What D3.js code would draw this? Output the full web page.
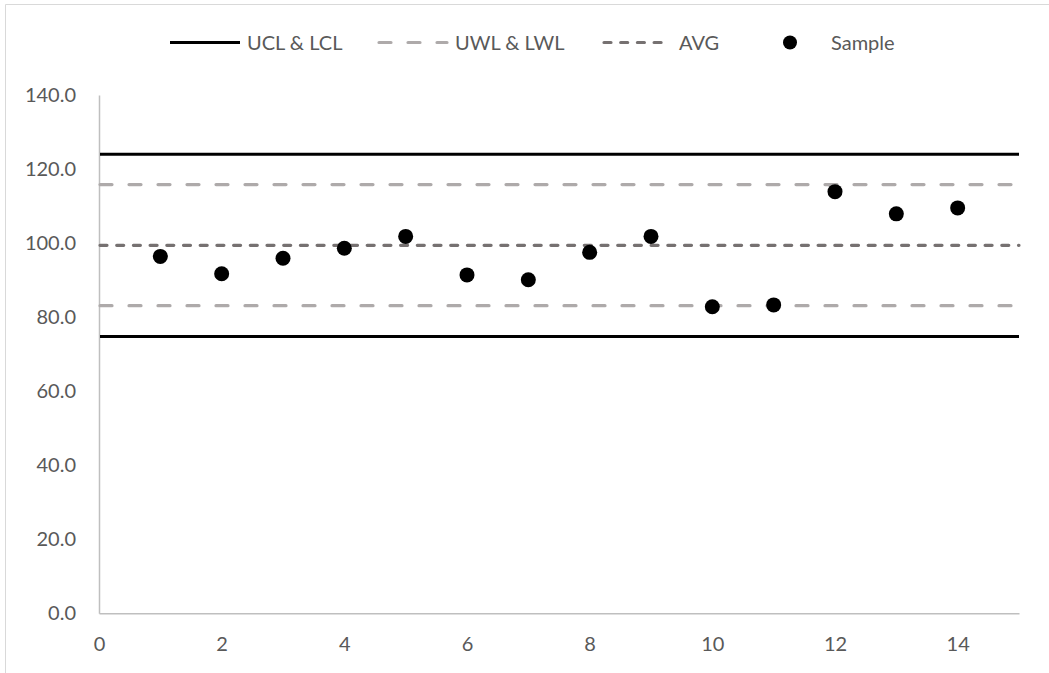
<!DOCTYPE html>
<html>
<head>
<meta charset="utf-8">
<script src="https://cdn.jsdelivr.net/npm/d3@7"></script>
<style>
  html, body { margin: 0; padding: 0; background: #fff; }
  svg { display: block; font-family: Lato, "Open Sans", sans-serif; }
</style>
</head>
<body>
<svg id="chart" width="1049" height="673"></svg>
<script>
// Sample numbers and measured values
const sampleIds = [1, 2, 3, 4, 5, 6, 7, 8, 9, 10, 11, 12, 13, 14];
const sampleValues = [96.4, 91.7, 95.9, 98.6, 101.8, 91.4, 90.1, 97.5, 101.8, 82.8, 83.3, 113.9, 107.9, 109.5];

// Control limits, warning limits and average
const controlLimits = [124.0, 74.8];   // UCL, LCL
const warningLimits = [115.8, 83.1];   // UWL, LWL
const averageLine = [99.4];            // AVG

// Axis ticks
const xTicks = [0, 2, 4, 6, 8, 10, 12, 14];
const yTicks = [0, 20, 40, 60, 80, 100, 120, 140];

const legendLabels = ["UCL & LCL", "UWL & LWL", "AVG", "Sample"];

const svg = d3.select("#chart");
const textColor = "#595959";
const axisColor = "#BFBFBF";

const x = d3.scaleLinear().domain([0, 15]).range([99, 1019]);
const y = d3.scaleLinear().domain([0, 140]).range([613.3, 95]);

// Chart frame
svg.append("path")
  .attr("d", "M5.5,673 L5.5,4.5 L1049,4.5")
  .attr("fill", "none")
  .attr("stroke", "#D9D9D9")
  .attr("stroke-width", 1);

// Y axis
const yAxis = d3.axisLeft(y).tickValues(yTicks).tickSize(0).tickPadding(23)
  .tickFormat(d3.format(".1f"));
const gy = svg.append("g").attr("transform", `translate(${x(0)},0)`).call(yAxis);
gy.select(".domain").attr("stroke", axisColor).attr("stroke-width", 1.5);
gy.selectAll("text").attr("fill", textColor).attr("font-size", 20)
  .attr("font-family", "Lato, 'Open Sans', sans-serif");

// X axis
const xAxis = d3.axisBottom(x).tickValues(xTicks).tickSize(0).tickPadding(31)
  .tickFormat(d3.format("d"));
const gx = svg.append("g").attr("transform", `translate(0,${y(0)})`).call(xAxis);
gx.select(".domain").attr("stroke", axisColor).attr("stroke-width", 1.5);
gx.selectAll("text").attr("fill", textColor).attr("font-size", 20)
  .attr("font-family", "Lato, 'Open Sans', sans-serif").attr("dy", "0.32em");

// Horizontal limit lines
const styles = {
  control: { stroke: "#000000", width: 3, dash: null, cap: "butt" },
  warning: { stroke: "#AEAAAA", width: 3.2, dash: "12,17", cap: "round" },
  average: { stroke: "#767171", width: 3.2, dash: "7,9.7", cap: "round" }
};

function hLines(values, st) {
  svg.append("g").selectAll("line").data(values).join("line")
    .attr("x1", x(0) + 1).attr("x2", x(15))
    .attr("y1", d => y(d)).attr("y2", d => y(d))
    .attr("stroke", st.stroke).attr("stroke-width", st.width)
    .attr("stroke-dasharray", st.dash).attr("stroke-linecap", st.cap);
}
hLines(warningLimits, styles.warning);
hLines(averageLine, styles.average);
hLines(controlLimits, styles.control);

// Sample points
svg.append("g").selectAll("circle").data(sampleIds).join("circle")
  .attr("cx", d => x(d))
  .attr("cy", (d, i) => y(sampleValues[i]))
  .attr("r", 7.5)
  .attr("fill", "#000");

// Legend
const ly = 42.5;
const leg = svg.append("g");
const lineItems = [
  { x1: 170, x2: 240, tx: 247, st: styles.control, label: legendLabels[0] },
  { x1: 379, x2: 447, tx: 455, st: styles.warning, label: legendLabels[1] },
  { x1: 604, x2: 668, tx: 679, st: styles.average, label: legendLabels[2] }
];
lineItems.forEach(it => {
  leg.append("line")
    .attr("x1", it.x1).attr("x2", it.x2).attr("y1", ly).attr("y2", ly)
    .attr("stroke", it.st.stroke).attr("stroke-width", it.st.width)
    .attr("stroke-dasharray", it.st.dash).attr("stroke-linecap", it.st.cap);
  leg.append("text").attr("x", it.tx).attr("y", ly).attr("dy", "0.35em")
    .attr("fill", textColor).attr("font-size", 20).text(it.label);
});
leg.append("circle").attr("cx", 790).attr("cy", ly).attr("r", 7).attr("fill", "#000");
leg.append("text").attr("x", 831).attr("y", ly).attr("dy", "0.35em")
  .attr("fill", textColor).attr("font-size", 20).text(legendLabels[3]);
</script>
</body>
</html>
